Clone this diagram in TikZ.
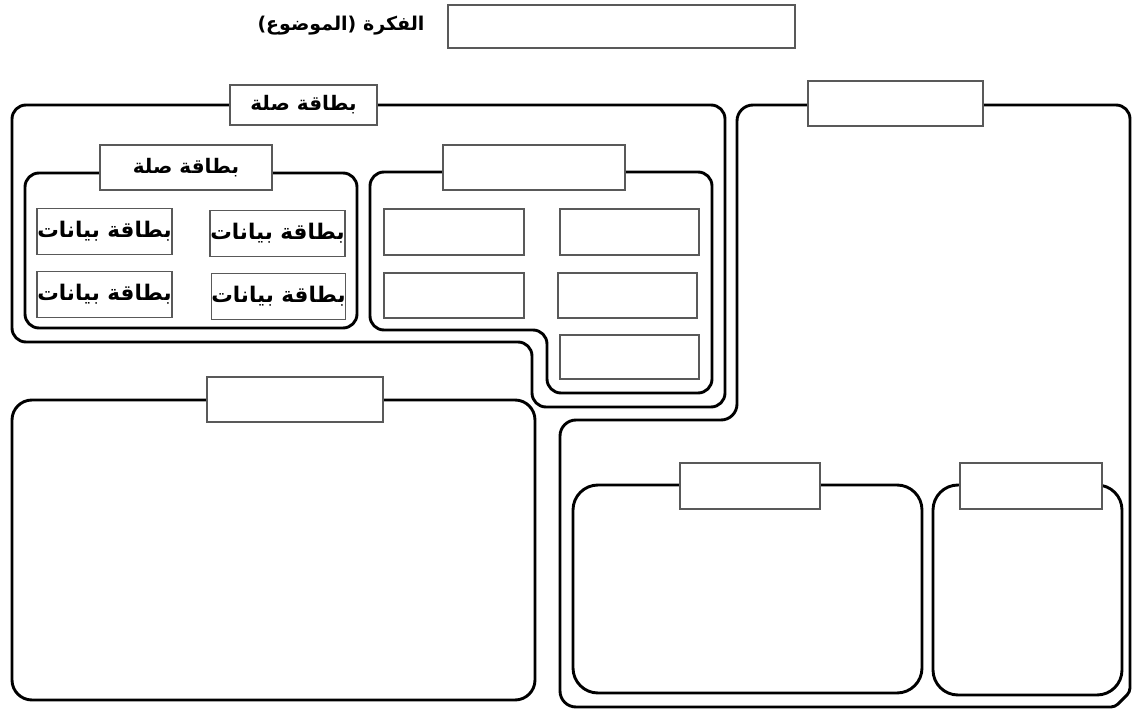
\documentclass[tikz,border=0pt]{standalone}
\usepackage{fontspec}
\newfontfamily\arabicfont[Script=Arabic]{DejaVu Sans}
\TeXXeTstate=1
\newcommand{\artxt}[2][20]{{\arabicfont\bfseries\fontsize{#1}{#1}\selectfont\beginR #2\endR}}
\tikzset{
  frame/.style={line width=2.9pt, rounded corners=14pt},
  tag/.style={draw=black!65, line width=1.3pt, fill=white, inner sep=0pt},
  card/.style={tag, minimum width=137pt, minimum height=46pt},
}

\begin{document}
\begin{tikzpicture}[x=1pt,y=-1pt]
\useasboundingbox (0,0) rectangle (1135,711);
% outer frames
\draw[frame] (12,342) -- (12,105) -- (725,105) -- (725,407) -- (532,407) -- (532,342) -- cycle;
\draw[frame] (25,173) rectangle (357,328);
\draw[frame] (370,172) -- (712,172) -- (712,393) -- (547,393) -- (547,330) -- (370,330) -- cycle;
\draw[frame] (737,105) -- (1130,105) [rounded corners=4pt] -- (1130,692) -- (1115,707) [rounded corners=16pt] -- (560,707) -- (560,420) -- (737,420) -- cycle;
\draw[frame, rounded corners=20pt] (12,400) rectangle (535,700);
\draw[frame, rounded corners=25pt] (573,485) rectangle (922,693);
\draw[frame, rounded corners=25pt] (933,485) rectangle (1122,695);
% topic
\node[tag, minimum width=347pt, minimum height=43pt] (topic) at (621.5,26.5) {};
\node (topiclab) at (341,26) {\artxt[19]{الفكرة (الموضوع)}};
% frame tags
\node[tag, minimum width=147pt, minimum height=40pt] (tagA) at (303.5,105) {\artxt{بطاقة صلة}};
\node[tag, minimum width=172pt, minimum height=45pt] (tagB) at (186,167.5) {\artxt{بطاقة صلة}};
\node[tag, minimum width=182pt, minimum height=45pt] (tagC) at (534,167.5) {};
\node[tag, minimum width=175pt, minimum height=45pt] (tagD) at (895.5,103.5) {};
\node[tag, minimum width=176pt, minimum height=45pt] (tagF) at (295,399.5) {};
\node[tag, minimum width=140pt, minimum height=46pt] (tagG) at (750,486) {};
\node[tag, minimum width=142pt, minimum height=46pt] (tagH) at (1031,486) {};
% data cards
\node[card, minimum width=135pt] (b1) at (277.5,233.5) {\artxt[21.5]{بطاقة بيانات}};
\node[card, minimum width=135pt] (b2) at (104.5,231.5) {\artxt[21.5]{بطاقة بيانات}};
\node[card, minimum width=133pt] (b3) at (278.5,296.5) {\artxt[21.5]{بطاقة بيانات}};
\node[card, minimum width=135pt] (b4) at (104.5,294.5) {\artxt[21.5]{بطاقة بيانات}};
% empty cards
\node[card, minimum width=140pt] (c1) at (454,232) {};
\node[card, minimum width=139pt] (c2) at (629.5,232) {};
\node[card, minimum width=140pt, minimum height=45pt] (c3) at (454,295.5) {};
\node[card, minimum width=139pt, minimum height=45pt] (c4) at (627.5,295.5) {};
\node[card, minimum width=139pt, minimum height=44pt] (c5) at (629.5,357) {};
\end{tikzpicture}
\end{document}
